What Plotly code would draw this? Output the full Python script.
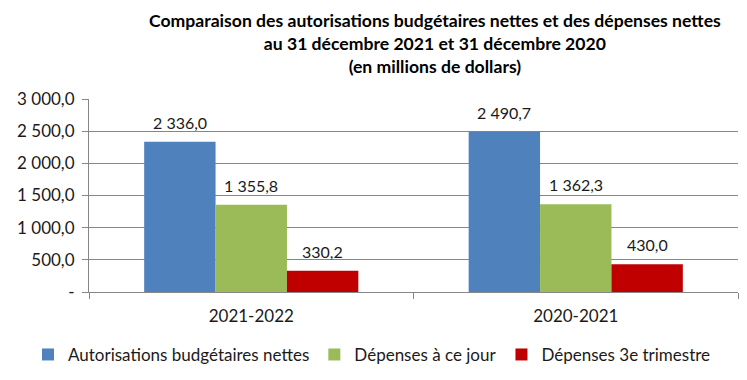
import plotly.graph_objects as go

categories = ["2021-2022", "2020-2021"]
series_names = ["Autorisations budgétaires nettes", "Dépenses à ce jour", "Dépenses 3e trimestre"]
autorisations = [2336.0, 2490.7]
depenses_jour = [1355.8, 1362.3]
depenses_trim = [330.2, 430.0]
colors = ["#4F81BD", "#9BBB59", "#C00000"]
y_tickvals = [0, 500, 1000, 1500, 2000, 2500, 3000]
y_ticktext = ["-", "500,0", "1 000,0", "1 500,0", "2 000,0", "2 500,0", "3 000,0"]

def fmt(v):
    s = f"{v:,.1f}"
    return s.replace(",", " ").replace(".", ",")

FONT = "Lato, Open Sans, sans-serif"
# page body has an 8px default margin; figure sized so it ends at the window edge
W, H = 739, 372
ML, MR, MT, MB = 81, 9, 91, 88
BARGAP = 0.34
plot_w = W - ML - MR
cat_px = plot_w / len(categories)
bar_px = cat_px * (1 - BARGAP) / 3

fig = go.Figure()
annotations = []
for j, (name, vals, col) in enumerate(zip(series_names, [autorisations, depenses_jour, depenses_trim], colors)):
    fig.add_trace(go.Bar(
        x=categories, y=vals, name=name, marker=dict(color=col, line=dict(width=0)),
    ))
    for c, v in zip(categories, vals):
        annotations.append(dict(
            x=c, y=v, xref="x", yref="y", text=fmt(v), showarrow=False,
            xshift=(j - 1) * bar_px, yanchor="bottom", yshift=8,
            font=dict(size=16, family=FONT, color="#1a1a1a"),
        ))

annotations.append(dict(
    text="<b>Comparaison des autorisations budgétaires nettes et des dépenses nettes<br>au 31 décembre 2021 et 31 décembre 2020<br>(en millions de dollars)</b>",
    xref="paper", yref="paper", x=(427 - ML) / plot_w, y=1.0, yanchor="bottom", yshift=20,
    showarrow=False, font=dict(size=17.6, family=FONT, color="black"), align="center",
))

fig.update_layout(
    width=W, height=H,
    margin=dict(l=ML, r=MR, t=MT, b=MB, autoexpand=False),
    paper_bgcolor="white", plot_bgcolor="white",
    barmode="group", bargap=BARGAP, bargroupgap=0,
    font=dict(family=FONT, color="#1a1a1a"),
    showlegend=True,
    legend=dict(orientation="h", x=(20 - ML) / plot_w, xanchor="left",
                y=-0.326, yanchor="middle",
                font=dict(size=17, family=FONT), traceorder="normal",
                itemwidth=30, tracegroupgap=0),
    annotations=annotations,
)
fig.update_xaxes(
    showline=True, linecolor="#868686", linewidth=1,
    ticks="outside", tickson="boundaries", ticklen=6, tickcolor="#868686",
    tickfont=dict(size=17, family=FONT), ticklabelstandoff=9, automargin=False,
)
fig.update_yaxes(
    range=[0, 3000], tickvals=y_tickvals, ticktext=y_ticktext,
    showgrid=True, gridcolor="#868686", gridwidth=1,
    showline=True, linecolor="#868686", linewidth=1,
    ticks="outside", ticklen=6, tickcolor="#868686",
    tickfont=dict(size=17, family=FONT), ticklabelstandoff=4,
    zeroline=False, automargin=False,
)
fig.write_html("out.html")
